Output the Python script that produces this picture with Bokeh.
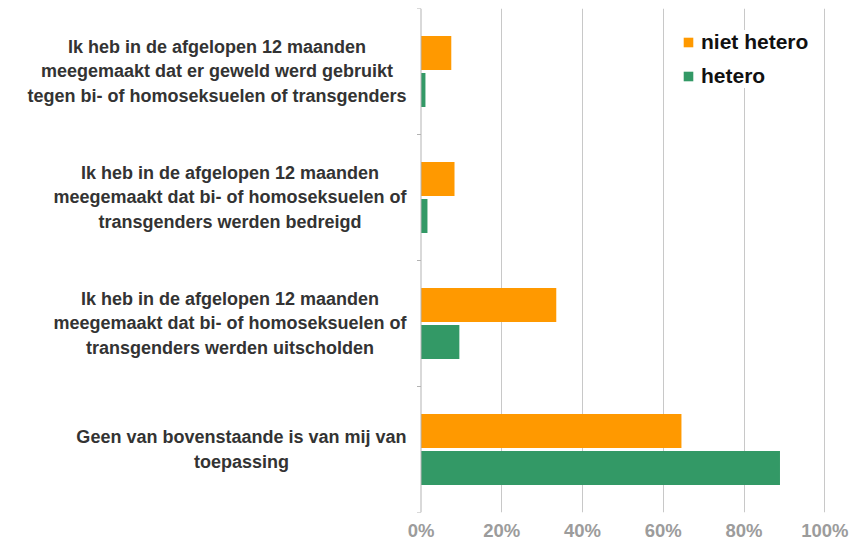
from bokeh.plotting import figure
from bokeh.models import (Range1d, FixedTicker, NumeralTickFormatter, Legend,
                          LegendItem, ColumnDataSource, Span)
from bokeh.transform import dodge
from bokeh.core.properties import value
from bokeh.embed import file_html
from bokeh.resources import INLINE

categories = [
    "Ik heb in de afgelopen 12 maanden\nmeegemaakt dat er geweld werd gebruikt\ntegen bi- of homoseksuelen of transgenders",
    "Ik heb in de afgelopen 12 maanden\nmeegemaakt dat bi- of homoseksuelen of\ntransgenders werden bedreigd",
    "Ik heb in de afgelopen 12 maanden\nmeegemaakt dat bi- of homoseksuelen of\ntransgenders werden uitscholden",
    "Geen van bovenstaande is van mij van\ntoepassing",
]
niet_hetero = [0.075, 0.083, 0.335, 0.645]
hetero = [0.011, 0.016, 0.095, 0.889]
series_names = ["niet hetero", "hetero"]
colors = ["#FF9900", "#339966"]
x_ticks = [0, 0.2, 0.4, 0.6, 0.8, 1.0]

FONT = "Liberation Sans"
W, H = 855, 554
AXIS_PX, FULL_PX = 420.5, 403.8      # screen x of 0 % and pixel width of 100 %
LABEL_RIGHT_PX = 406                   # screen x of the right edge of the label blocks
n = len(categories)
pos = [i + 0.5 for i in range(n)]
source = ColumnDataSource(dict(pos=pos, niet_hetero=niet_hetero, hetero=hetero,
                               cat=categories))

x_start = -AXIS_PX / FULL_PX
x_end = (W - AXIS_PX) / FULL_PX
label_x = (LABEL_RIGHT_PX - AXIS_PX) / FULL_PX
tick_len = 4 / FULL_PX

p = figure(width=W, height=H, output_backend="svg", toolbar_location=None,
           x_range=Range1d(x_start, x_end), y_range=Range1d(n, 0),
           min_border_left=0, min_border_right=0, min_border_top=8,
           min_border_bottom=42)
p.outline_line_color = None
p.background_fill_color = "white"
p.border_fill_color = "white"
p.yaxis.visible = False

# grid
p.xgrid.ticker = FixedTicker(ticks=x_ticks[1:])
p.xgrid.grid_line_color = "#c8c8c8"
p.ygrid.grid_line_color = None

r1 = p.hbar(y=dodge("pos", -0.147, range=p.y_range), right="niet_hetero", left=0,
            height=0.27, source=source, color=colors[0], line_color=None)
r2 = p.hbar(y=dodge("pos", 0.147, range=p.y_range), right="hetero", left=0,
            height=0.27, source=source, color=colors[1], line_color=None)

# category axis line at 0 with ticks at category boundaries
p.add_layout(Span(location=0, dimension="height", line_color="#b3b3b3", line_width=1))
bounds = list(range(n + 1))
p.segment(x0=[-tick_len] * len(bounds), x1=[0] * len(bounds), y0=bounds, y1=bounds,
          line_color="#b3b3b3", line_width=1)

# category labels: block anchored at its right edge, lines centred inside it
p.text(x=label_x, y="pos", text="cat", source=source, text_align="center",
       text_baseline="middle", anchor="center_right", text_font=value(FONT),
       text_font_style="bold", text_font_size="18px", text_color="#333333",
       text_line_height=1.228)

# x axis
p.xaxis.ticker = FixedTicker(ticks=x_ticks)
p.xaxis.formatter = NumeralTickFormatter(format="0%")
p.xaxis.axis_line_color = None
p.xaxis.major_tick_line_color = None
p.xaxis.minor_tick_line_color = None
p.xaxis.major_tick_out = 0
p.xaxis.major_tick_in = 0
p.xaxis.major_label_standoff = 7
p.xaxis.major_label_text_font = FONT
p.xaxis.major_label_text_font_style = "bold"
p.xaxis.major_label_text_font_size = "18.5px"
p.xaxis.major_label_text_color = "#9c9c9c"

legend = Legend(items=[LegendItem(label=series_names[0], renderers=[r1]),
                       LegendItem(label=series_names[1], renderers=[r2])],
                location=(682, 424), orientation="vertical",
                glyph_width=12, glyph_height=12, label_height=20,
                label_standoff=7, spacing=10, padding=6, margin=0,
                border_line_color=None, background_fill_color="white",
                background_fill_alpha=1.0,
                label_text_font=FONT, label_text_font_style="bold",
                label_text_font_size="21px", label_text_color="#111111")
p.add_layout(legend)

open("out.html", "w").write(file_html(p, INLINE))
